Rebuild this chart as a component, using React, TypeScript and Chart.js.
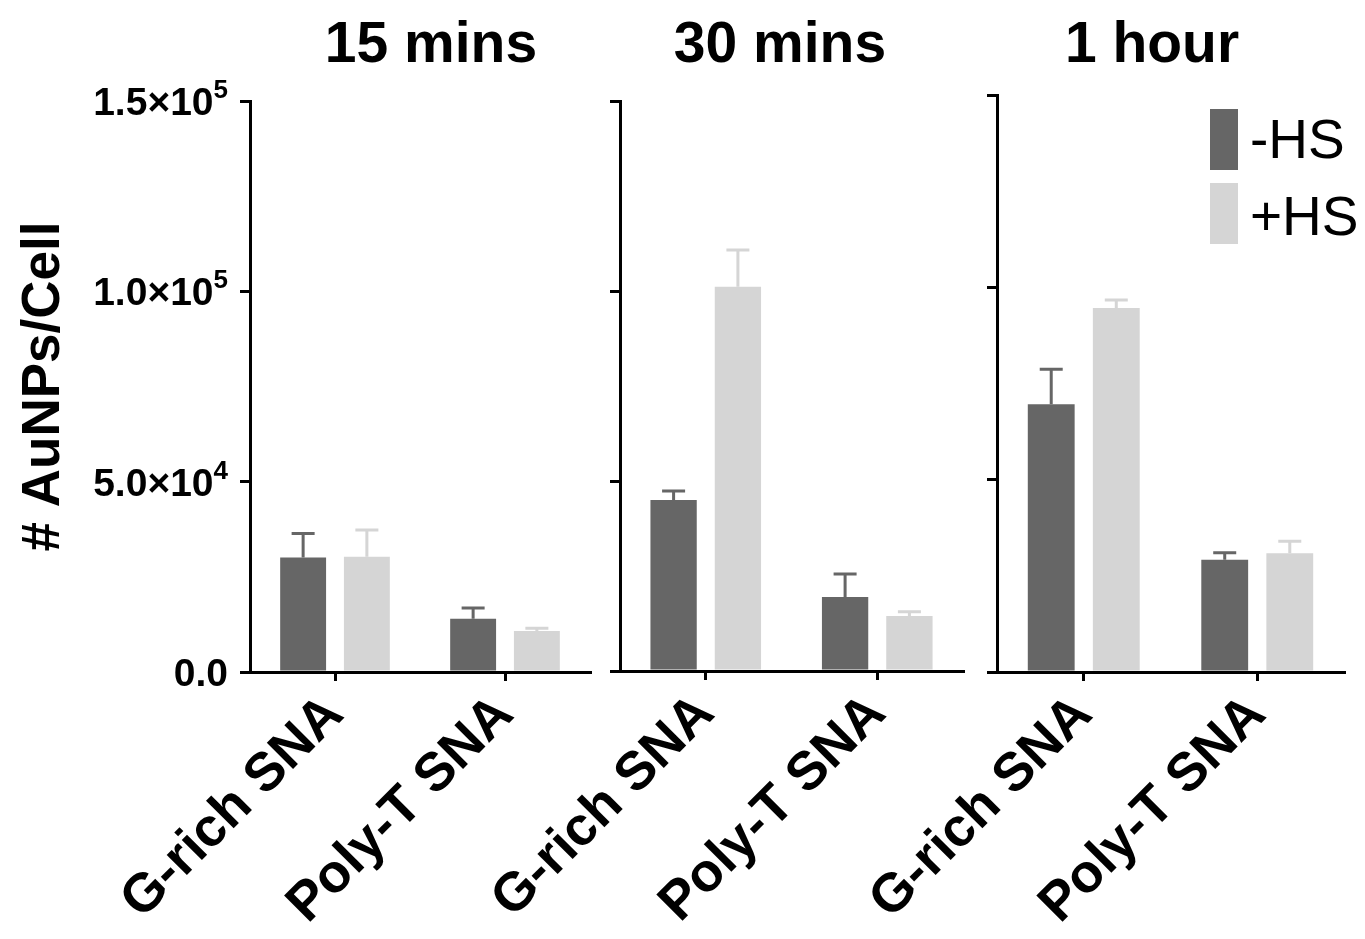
import React, { useEffect, useRef } from "react";
import { Chart, registerables } from "chart.js";

Chart.register(...registerables);

// ---------------- data ----------------
const categories = ["G-rich SNA", "Poly-T SNA"];
const seriesNames = ["-HS", "+HS"];
const panelTitles = ["15 mins", "30 mins", "1 hour"];
const yAxisTitle = "# AuNPs/Cell";
const yTickValues = [0, 50000, 100000, 150000];
const yTickMantissa = ["0.0", "5.0×10", "1.0×10", "1.5×10"];
const yTickExponent = ["", "4", "5", "5"];

const minusHS15 = [30100, 14000];
const plusHS15 = [30300, 10800];
const minusHSErr15 = [6300, 2800];
const plusHSErr15 = [7000, 700];

const minusHS30 = [45000, 19500];
const plusHS30 = [101100, 14500];
const minusHSErr30 = [2400, 6000];
const plusHSErr30 = [9700, 1100];

const minusHS60 = [69600, 29200];
const plusHS60 = [94600, 30900];
const minusHSErr60 = [9100, 1800];
const plusHSErr60 = [2100, 3100];

const panelValues = [
  { minus: minusHS15, plus: plusHS15, minusErr: minusHSErr15, plusErr: plusHSErr15 },
  { minus: minusHS30, plus: plusHS30, minusErr: minusHSErr30, plusErr: plusHSErr30 },
  { minus: minusHS60, plus: plusHS60, minusErr: minusHSErr60, plusErr: plusHSErr60 },
];

// ---------------- styling / layout ----------------
const DARK = "#666666";
const LIGHT = "#d5d5d5";
const FONT = "'Liberation Sans', Arial, Helvetica, sans-serif";
const CANVAS_H = 939;

const panelLayouts = [
  { left: 0, width: 600, axisWidth: 250, padTop: 101, padRight: 10, plotBottom: 672, titleX: 431, showLabels: true, legend: false },
  { left: 400, width: 575, axisWidth: 220, padTop: 101, padRight: 12, plotBottom: 671, titleX: 780, showLabels: false, legend: false },
  { left: 780, width: 585, axisWidth: 217, padTop: 95, padRight: 21, plotBottom: 672, titleX: 1152, showLabels: false, legend: true },
];

const errorBarPlugin = {
  id: "errorBars",
  afterDatasetsDraw(chart: any) {
    const ctx = chart.ctx;
    const yScale = chart.scales.y;
    chart.data.datasets.forEach((ds: any, i: number) => {
      const meta = chart.getDatasetMeta(i);
      meta.data.forEach((el: any, j: number) => {
        const v = ds.data[j];
        const e = ds.errors[j];
        const yTop = yScale.getPixelForValue(v + e);
        const yBar = el.y;
        ctx.save();
        ctx.strokeStyle = ds.backgroundColor;
        ctx.lineWidth = 3;
        ctx.beginPath();
        ctx.moveTo(el.x, yBar);
        ctx.lineTo(el.x, yTop);
        ctx.moveTo(el.x - 11.5, yTop);
        ctx.lineTo(el.x + 11.5, yTop);
        ctx.stroke();
        ctx.restore();
      });
    });
  },
};

const decorPlugin = {
  id: "panelDecor",
  afterDraw(chart: any, _args: any, opts: any) {
    const ctx = chart.ctx;
    ctx.save();
    ctx.fillStyle = "#000";
    ctx.font = `bold 57px ${FONT}`;
    ctx.textAlign = "center";
    ctx.textBaseline = "alphabetic";
    ctx.fillText(opts.title, opts.titleX - opts.left, 62);

    if (opts.showLabels) {
      // y tick labels with real superscript exponents
      const yScale = chart.scales.y;
      const rightEdge = yScale.right - 22;
      yTickValues.forEach((v, k) => {
        const py = yScale.getPixelForValue(v);
        const base = yTickMantissa[k];
        const exp = yTickExponent[k];
        ctx.font = `bold 26px ${FONT}`;
        const expW = exp ? ctx.measureText(exp).width : 0;
        ctx.textAlign = "right";
        if (exp) {
          ctx.fillText(exp, rightEdge, py - 3);
        }
        ctx.font = `bold 39px ${FONT}`;
        ctx.fillText(base, rightEdge - expW, py + 14);
      });
    }

    if (opts.legend) {
      const colors = [DARK, LIGHT];
      const boxY = [109, 183];
      const textY = [158, 235];
      ctx.font = `55px ${FONT}`;
      ctx.textAlign = "left";
      seriesNames.forEach((name, k) => {
        ctx.fillStyle = colors[k];
        ctx.fillRect(1210 - opts.left, boxY[k], 28, 61);
        ctx.fillStyle = "#000";
        ctx.fillText(name, 1250 - opts.left, textY[k]);
      });
    }
    ctx.restore();
  },
};

function Panel({ index }: { index: number }) {
  const ref = useRef<HTMLCanvasElement | null>(null);
  const lay = panelLayouts[index];
  useEffect(() => {
    if (!ref.current) return;
    const vals = panelValues[index];
    const chart = new Chart(ref.current, {
      type: "bar",
      data: {
        labels: categories,
        datasets: [
          {
            label: seriesNames[0],
            data: vals.minus,
            errors: vals.minusErr,
            backgroundColor: DARK,
            borderWidth: 0,
            categoryPercentage: 0.75,
            barPercentage: 0.72,
          } as any,
          {
            label: seriesNames[1],
            data: vals.plus,
            errors: vals.plusErr,
            backgroundColor: LIGHT,
            borderWidth: 0,
            categoryPercentage: 0.75,
            barPercentage: 0.72,
          } as any,
        ],
      },
      options: {
        animation: false,
        responsive: false,
        layout: { padding: { top: lay.padTop, right: lay.padRight, left: 0, bottom: 0 } },
        plugins: {
          legend: { display: false },
          tooltip: { enabled: false },
          panelDecor: {
            title: panelTitles[index],
            titleX: lay.titleX,
            left: lay.left,
            legend: lay.legend,
            showLabels: lay.showLabels,
          },
        } as any,
        scales: {
          x: {
            afterFit: (scale: any) => {
              scale.height = CANVAS_H - lay.plotBottom;
            },
            grid: {
              offset: false,
              drawOnChartArea: false,
              drawTicks: true,
              tickLength: 9,
              lineWidth: 3,
              color: "#000",
            },
            border: { display: true, color: "#000", width: 3 },
            ticks: {
              autoSkip: false,
              minRotation: 45,
              maxRotation: 45,
              padding: 2,
              color: "#000",
              font: { family: FONT, size: 54, weight: "bold" },
            },
          },
          y: {
            min: 0,
            max: 150000,
            afterFit: (scale: any) => {
              scale.width = lay.axisWidth;
            },
            afterBuildTicks: (scale: any) => {
              scale.ticks = yTickValues.map((v) => ({ value: v }));
            },
            grid: {
              drawOnChartArea: false,
              drawTicks: true,
              tickLength: 10,
              lineWidth: 3,
              color: "#000",
            },
            border: { display: true, color: "#000", width: 3 },
            ticks: {
              display: false,
            },
            title: {
              display: lay.showLabels,
              text: yAxisTitle,
              color: "#000",
              font: { family: FONT, size: 53, weight: "bold" },
              padding: { top: 13, bottom: 0 },
            },
          },
        },
      },
      plugins: [errorBarPlugin, decorPlugin],
    });
    return () => chart.destroy();
  }, [index]);
  return (
    <canvas
      ref={ref}
      width={lay.width}
      height={CANVAS_H}
      style={{ position: "absolute", left: lay.left, top: 0, width: lay.width, height: CANVAS_H }}
    />
  );
}

export default function App() {
  return (
    <div style={{ position: "absolute", left: 0, top: 0, width: 1365, height: CANVAS_H, background: "#fff", overflow: "hidden" }}>
      {panelLayouts.map((_, i) => (
        <Panel key={i} index={i} />
      ))}
    </div>
  );
}
